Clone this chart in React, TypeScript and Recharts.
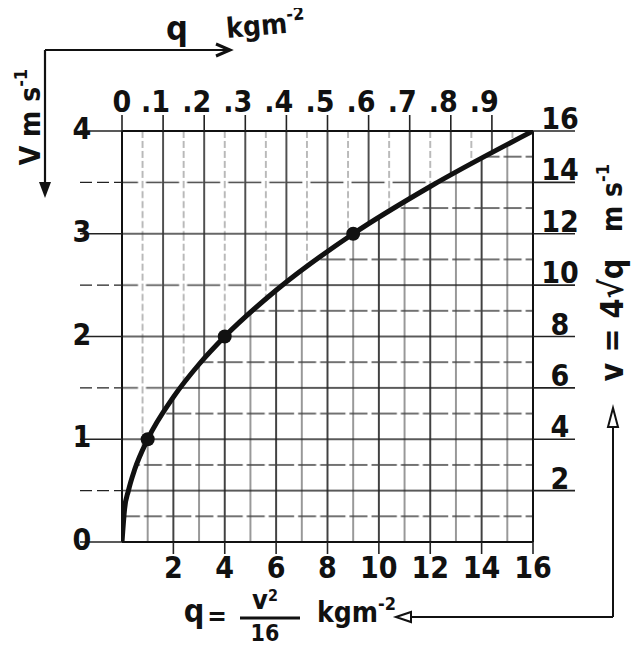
import React from 'react';
import { ComposedChart, Line, Area, XAxis, YAxis } from 'recharts';

// values (q in kg m^-2, v in m s^-1)
const curveQ = [0, 0.1, 0.25, 0.5, 1, 2, 3, 4, 6, 9, 12, 16];
const curveV = [0, 0.32, 0.5, 0.71, 1, 1.41, 1.73, 2, 2.45, 3, 3.46, 4];
const markedQ = [1, 4, 9];

const bottomTicks = [2, 4, 6, 8, 10, 12, 14, 16];
const leftTicks = [0, 0.5, 1, 1.5, 2, 2.5, 3, 3.5, 4];
// top scale labels (0 .. .9), drawn against the same 0-16 span of the plot
const topLabels = [0, 0.1, 0.2, 0.3, 0.4, 0.5, 0.6, 0.7, 0.8, 0.9];
const TOP_FULL = 1;
const rightTicks = [2, 4, 6, 8, 10, 12, 14, 16];

const data = curveQ.map((q, i) => ({ q, v: curveV[i] }));

const W = 623;
const H = 637;
const PLOT_L = 114;
const PLOT_T = 123;
const PLOT_W = 411;
const PLOT_H = 411;
const LEFT_W = 60;
const RIGHT_W = 60;
const TOP_H = 50;
const BOTTOM_H = 40;
const Q_MAX = 16;

const FONT = "'Liberation Sans Narrow', 'DejaVu Sans Condensed', 'Liberation Sans', sans-serif";
const INK = '#111';

const txt = { fontFamily: FONT, fontWeight: 700, fill: INK } as const;

const LeftTick = ({ x, y, payload }: any) => {
  const v = payload.value;
  const major = Number.isInteger(v);
  return (
    <g>
      <line x1={x - 42} x2={x} y1={y} y2={y} stroke="#222" strokeWidth={major ? 1.6 : 1.3}
        strokeDasharray={major ? undefined : '12 5'} />
      {major && <text x={x - 40} y={y + 8} textAnchor="middle" fontSize={30} {...txt}>{v}</text>}
    </g>
  );
};

const RightTick = ({ x, y, payload }: any) => (
  <g>
    <line x1={x} x2={x + 42} y1={y} y2={y} stroke="#222" strokeWidth={1.6} />
    <text x={x + 27} y={y - 2} textAnchor="middle" fontSize={30} {...txt}>{payload.value}</text>
  </g>
);

const BottomTick = ({ x, y, payload }: any) => (
  <g>
    <line x1={x} x2={x} y1={y} y2={y + 12} stroke="#222" strokeWidth={1.6} />
    <text x={x} y={y + 36} textAnchor="middle" fontSize={30} {...txt}>{payload.value}</text>
  </g>
);

const TopTick = ({ x, y, payload }: any) => {
  const t = Math.round((payload.value / Q_MAX) * TOP_FULL * 10);
  const label = t === 0 ? '0' : '.' + t;
  return (
    <g>
      <line x1={x} x2={x} y1={y - 16} y2={y} stroke="#222" strokeWidth={1.6} />
      <text x={t === 0 ? x : x + 7} y={y - 19} textAnchor={t === 0 ? 'middle' : 'end'} fontSize={30} {...txt}>
        {label}
      </text>
    </g>
  );
};

const CurveDot = (props: any) => {
  const { cx, cy, payload } = props;
  if (!markedQ.includes(payload.q)) return <g key={props.key} />;
  return <circle key={props.key} cx={cx} cy={cy} r={7} fill={INK} />;
};

// grid cells: top/left scale above the curve, bottom/right scale below it
const topCellW = PLOT_W / 10;
const topCellH = PLOT_H / 4;
const botCell = PLOT_W / 8;
const GL = 1.7;

const Annotations = () => (
  <svg width={W} height={H} style={{ position: 'absolute', left: 0, top: 0, overflow: 'visible', pointerEvents: 'none' }}>
    {/* top q arrow and left V arrow */}
    <line x1={37} y1={42} x2={222} y2={42} stroke={INK} strokeWidth={2.2} />
    <polyline points="208,36 222,42 208,48" fill="none" stroke={INK} strokeWidth={3} />
    <line x1={37} y1={42} x2={37} y2={182} stroke={INK} strokeWidth={2.2} />
    <polygon points="31,174 43,174 37,190" fill={INK} />
    <text x={169} y={32} textAnchor="middle" fontSize={34} {...txt}>q</text>
    <text x={219} y={30} fontSize={28} transform="rotate(-5 219 30)" {...txt}>
      kgm<tspan dy={-12} fontSize={18}>-2</tspan>
    </text>
    <text x={22} y={109} textAnchor="middle" dominantBaseline="central" fontSize={28}
      transform="rotate(-90 22 109)" {...txt}>
      V  m s<tspan dy={-10} fontSize={18}>-1</tspan>
    </text>

    {/* right side formula and return arrows */}
    <text x={604} y={312} textAnchor="middle" dominantBaseline="central" fontSize={32}
      transform="rotate(-90 604 312)" {...txt}>
      v = 4√q
    </text>
    <text x={604} y={190} textAnchor="middle" dominantBaseline="central" fontSize={28}
      transform="rotate(-90 604 190)" {...txt}>
      m s<tspan dy={-10} fontSize={18}>-1</tspan>
    </text>
    <line x1={605} y1={609} x2={605} y2={412} stroke={INK} strokeWidth={2} />
    <polygon points="605,400 600,419 610,419" fill="#fff" stroke={INK} strokeWidth={2} />
    <line x1={605} y1={609} x2={402} y2={609} stroke={INK} strokeWidth={2} />
    <polygon points="388,609 403,604 403,614" fill="#fff" stroke={INK} strokeWidth={2} />

    {/* bottom formula */}
    <text x={186} y={614} textAnchor="middle" fontSize={32} {...txt}>q</text>
    <text x={209} y={617} textAnchor="middle" fontSize={26} {...txt}>=</text>
    <text x={257} y={601} textAnchor="middle" fontSize={27} {...txt}>
      v<tspan dy={-8} fontSize={16}>2</tspan>
    </text>
    <line x1={232} y1={610} x2={292} y2={610} stroke={INK} strokeWidth={3} />
    <text x={257} y={633} textAnchor="middle" fontSize={23} {...txt}>16</text>
    <text x={309} y={614} fontSize={28} {...txt}>
      kgm<tspan dy={-12} fontSize={18}>-2</tspan>
    </text>
  </svg>
);

const App = () => (
  <div style={{ position: 'relative', width: W, height: H, background: '#fff' }}>
    <ComposedChart
      width={W}
      height={H}
      data={data}
      margin={{
        top: PLOT_T - TOP_H,
        left: PLOT_L - LEFT_W,
        right: W - (PLOT_L + PLOT_W) - RIGHT_W,
        bottom: H - (PLOT_T + PLOT_H) - BOTTOM_H,
      }}
    >
      <defs>
        <pattern id="gridTop" patternUnits="userSpaceOnUse" x={PLOT_L} y={PLOT_T} width={topCellW} height={topCellH}>
          <line x1={0} x2={0} y1={0} y2={topCellH} stroke="#333" strokeWidth={GL} />
          <line x1={topCellW} x2={topCellW} y1={0} y2={topCellH} stroke="#333" strokeWidth={GL} />
          <line x1={topCellW / 2} x2={topCellW / 2} y1={0} y2={topCellH} stroke="#777" strokeWidth={1} strokeDasharray="7 3" />
          <line x1={0} x2={topCellW} y1={0} y2={0} stroke="#333" strokeWidth={GL} />
          <line x1={0} x2={topCellW} y1={topCellH} y2={topCellH} stroke="#333" strokeWidth={GL} />
          <line x1={0} x2={topCellW} y1={topCellH / 2} y2={topCellH / 2} stroke="#444" strokeWidth={1.3} strokeDasharray="16 8" />
        </pattern>
        <pattern id="gridBottom" patternUnits="userSpaceOnUse" x={PLOT_L} y={PLOT_T} width={botCell} height={botCell}>
          <line x1={0} x2={0} y1={0} y2={botCell} stroke="#222" strokeWidth={GL} />
          <line x1={botCell} x2={botCell} y1={0} y2={botCell} stroke="#222" strokeWidth={GL} />
          <line x1={botCell / 2} x2={botCell / 2} y1={0} y2={botCell} stroke="#555" strokeWidth={1.2} />
          <line x1={0} x2={botCell} y1={0} y2={0} stroke="#222" strokeWidth={GL} />
          <line x1={0} x2={botCell} y1={botCell} y2={botCell} stroke="#222" strokeWidth={GL} />
          <line x1={0} x2={botCell} y1={botCell / 2} y2={botCell / 2} stroke="#444" strokeWidth={1.3} strokeDasharray="18 4" />
        </pattern>
      </defs>

      <XAxis xAxisId="bottom" dataKey="q" type="number" domain={[0, Q_MAX]} ticks={bottomTicks}
        orientation="bottom" height={BOTTOM_H} allowDataOverflow interval={0}
        axisLine={{ stroke: INK, strokeWidth: 2 }} tickLine={false} tickSize={0} tickMargin={0}
        tick={(p: any) => <BottomTick {...p} />} />
      <XAxis xAxisId="top" dataKey="q" type="number" domain={[0, Q_MAX]}
        ticks={topLabels.map((t) => (t / TOP_FULL) * Q_MAX)}
        orientation="top" height={TOP_H} allowDataOverflow interval={0}
        axisLine={{ stroke: INK, strokeWidth: 2 }} tickLine={false} tickSize={0} tickMargin={0}
        tick={(p: any) => <TopTick {...p} />} />
      <YAxis yAxisId="left" type="number" domain={[0, 4]} ticks={leftTicks}
        orientation="left" width={LEFT_W} allowDataOverflow interval={0}
        axisLine={{ stroke: INK, strokeWidth: 2 }} tickLine={false} tickSize={0} tickMargin={0}
        tick={(p: any) => <LeftTick {...p} />} />
      <YAxis yAxisId="right" type="number" domain={[0, 16]} ticks={rightTicks}
        orientation="right" width={RIGHT_W} allowDataOverflow interval={0}
        axisLine={{ stroke: INK, strokeWidth: 2 }} tickLine={false} tickSize={0} tickMargin={0}
        tick={(p: any) => <RightTick {...p} />} />

      <Area xAxisId="bottom" yAxisId="left" dataKey="v" type="monotone" baseValue={4}
        fill="url(#gridTop)" fillOpacity={1} stroke="none" isAnimationActive={false} />
      <Area xAxisId="bottom" yAxisId="left" dataKey="v" type="monotone" baseValue={0}
        fill="url(#gridBottom)" fillOpacity={1} stroke="none" isAnimationActive={false} />
      <Line xAxisId="bottom" yAxisId="left" dataKey="v" type="monotone" stroke={INK} strokeWidth={5}
        dot={CurveDot} activeDot={false} isAnimationActive={false} />
    </ComposedChart>
    <Annotations />
  </div>
);

export default App;
